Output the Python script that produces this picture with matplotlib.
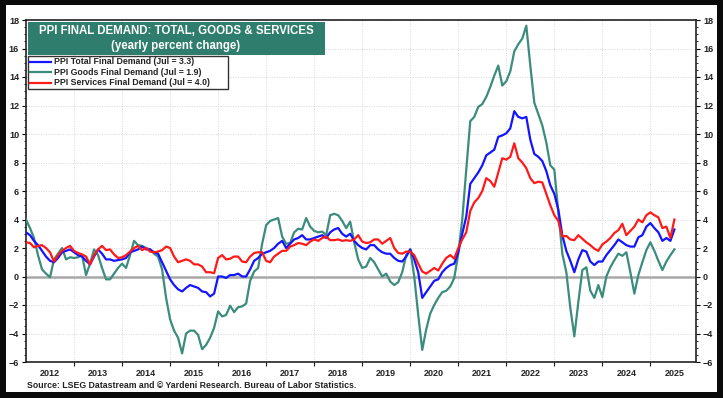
import numpy as np
import pandas as pd
import matplotlib
matplotlib.use('Agg')
import matplotlib.pyplot as plt
from matplotlib.patches import Rectangle
from matplotlib.lines import Line2D

plt.rcParams['font.family'] = ['Liberation Sans', 'DejaVu Sans']

# Monthly, Jan 2012 .. Jul 2025 (yearly percent change)
months = pd.date_range('2012-01-01', '2025-07-01', freq='MS')

ppi_total = [
    3.1, 2.9, 2.5, 2.2, 1.8, 1.4, 1.1, 1.0, 1.3, 1.7, 1.8, 1.9,       # 2012
    1.7, 1.5, 1.4, 1.1, 0.85, 1.4, 1.9, 1.6, 1.2, 1.2, 1.1, 1.15,     # 2013
    1.2, 1.3, 1.7, 1.8, 1.9, 2.1, 1.9, 1.9, 1.7, 1.6, 1.0, 0.4,       # 2014
    -0.2, -0.6, -0.9, -1.05, -0.8, -0.6, -0.7, -0.8, -1.05, -1.1, -1.4, -1.2,  # 2015
    0.0, 0.0, -0.1, 0.1, 0.1, 0.2, 0.0, 0.0, 0.5, 1.1, 1.3, 1.6,     # 2016
    1.7, 1.8, 2.0, 2.3, 2.5, 2.0, 2.3, 2.6, 2.7, 2.9, 2.6, 2.6,       # 2017
    2.7, 2.8, 2.9, 2.7, 3.1, 3.3, 3.4, 3.0, 2.8, 3.0, 2.5, 2.2,       # 2018
    2.0, 1.9, 2.2, 2.2, 1.9, 1.7, 1.6, 1.6, 1.3, 1.1, 1.05, 1.4,      # 2019
    1.9, 1.2, 0.3, -1.5, -1.1, -0.7, -0.3, -0.2, 0.3, 0.6, 0.8, 0.9,  # 2020
    1.7, 3.0, 4.2, 6.5, 6.9, 7.3, 7.8, 8.5, 8.7, 8.9, 9.8, 9.9,       # 2021
    10.05, 10.4, 11.6, 11.2, 11.1, 11.2, 9.6, 8.6, 8.4, 8.1, 7.4, 6.4,  # 2022
    5.8, 4.7, 2.9, 1.8, 1.1, 0.3, 1.2, 1.85, 1.75, 1.05, 0.8, 1.05,   # 2023
    1.05, 1.5, 1.85, 2.2, 2.6, 2.4, 2.2, 2.1, 2.1, 2.75, 2.9, 3.5,    # 2024
    3.75, 3.4, 3.1, 2.5, 2.7, 2.5, 3.3,                               # 2025
]

ppi_goods = [
    4.0, 3.4, 2.7, 1.5, 0.5, 0.2, -0.05, 1.2, 1.6, 2.0, 1.2, 1.35,
    1.3, 1.35, 1.5, 0.1, 0.9, 1.9, 1.5, 0.6, -0.2, -0.2, 0.2, 0.6,
    0.9, 0.6, 1.5, 2.5, 2.2, 2.15, 2.0, 1.9, 1.6, 1.4, 0.5, -1.5,
    -3.0, -3.8, -4.3, -5.4, -4.0, -3.8, -3.8, -4.1, -5.1, -4.8, -4.3, -3.6,
    -2.45, -2.8, -2.7, -2.05, -2.5, -2.15, -2.1, -1.9, -0.3, 0.35, 0.6, 2.3,
    3.6, 3.9, 4.0, 4.1, 2.8, 2.3, 2.35, 3.1, 3.35, 3.3, 4.1, 3.5,
    3.2, 3.1, 3.15, 2.9, 4.3, 4.4, 4.3, 3.9, 3.4, 3.85, 2.4, 1.2,
    0.6, 0.7, 1.3, 1.0, 0.5, 0.0, 0.2, -0.35, -0.6, -0.4, 0.3, 1.5,
    1.9, 0.0, -2.7, -5.15, -3.7, -2.6, -2.0, -1.5, -1.1, -1.0, -0.7, -0.1,
    1.6, 4.0, 7.5, 10.9, 11.2, 11.9, 12.1, 12.6, 13.3, 14.1, 14.8, 13.4,
    13.7, 14.4, 15.8, 16.3, 16.7, 17.6, 14.8, 12.2, 11.4, 10.6, 9.4, 7.8,
    7.5, 4.5, 1.6, 0.3, -2.2, -4.2, -1.8, 0.45, 0.65, -1.0, -1.5, -0.6,
    -1.45, 0.0, 0.65, 1.15, 1.6, 1.45, 1.7, 0.3, -1.2, 0.1, 1.0, 1.85,
    2.4, 1.8, 1.1, 0.45, 1.05, 1.5, 1.9,
]

ppi_services = [
    2.4, 2.35, 2.05, 2.15, 2.2, 2.0, 1.7, 1.05, 1.5, 1.8, 2.0, 2.15,
    1.8, 1.65, 1.55, 1.4, 0.85, 1.5, 1.9, 2.15, 1.85, 1.9, 1.55, 1.3,
    1.35, 1.5, 1.75, 2.0, 2.15, 1.85, 2.0, 1.75, 1.7, 1.75, 1.85, 2.1,
    2.0, 1.4, 1.0, 1.1, 1.2, 1.1, 0.85, 0.85, 0.7, 0.3, 0.3, 0.23,
    1.3, 1.5, 1.2, 1.25, 1.4, 1.4, 1.05, 1.0, 1.4, 1.65, 1.7, 1.7,
    1.1, 1.0, 1.4, 1.6, 1.8, 1.8, 2.1, 2.2, 2.35, 2.3, 2.2, 2.45,
    2.6, 2.5, 2.7, 2.8, 2.55, 2.55, 2.6, 2.5, 2.55, 2.5, 2.6, 2.9,
    2.45, 2.35, 2.4, 2.6, 2.6, 2.3, 2.5, 2.7, 2.0, 1.65, 1.6, 1.75,
    1.75, 1.5, 0.9, 0.35, 0.2, 0.4, 0.6, 0.42, 0.9, 1.3, 1.5, 1.25,
    2.0, 2.6, 3.1, 4.6, 5.2, 5.5, 6.0, 6.9, 6.7, 6.3, 7.3, 8.3,
    8.2, 8.4, 9.35, 8.3, 8.0, 7.6, 6.9, 6.55, 6.65, 6.6, 5.8, 5.0,
    4.3, 3.9, 2.8, 2.85, 2.6, 2.55, 2.9, 2.65, 2.4, 2.2, 1.95, 1.8,
    2.25, 2.45, 2.7, 3.05, 3.25, 3.7, 2.9, 3.2, 3.5, 4.0, 3.8, 4.3,
    4.5, 4.3, 4.15, 3.4, 3.5, 2.7, 4.0,
]

years = list(range(2012, 2026))
y_ticks = list(range(-6, 19, 2))

series_labels = ['PPI Total Final Demand (Jul = 3.3)',
                 'PPI Goods Final Demand (Jul = 1.9)',
                 'PPI Services Final Demand (Jul = 4.0)']
series_colors = ['#1414ff', '#3b8c7c', '#ff1a1a']

t = months.year + (months.month - 1) / 12.0

W, H = 723, 398
fig = plt.figure(figsize=(W / 100, H / 100), dpi=100, facecolor='#0a0a0a')

def fx(px):
    return px / W

def fy(py):
    return 1 - py / H

# white card inside the dark frame
fig.patches.append(Rectangle((fx(6), fy(392)), fx(717) - fx(6), fy(5) - fy(392),
                             transform=fig.transFigure, facecolor='white', edgecolor='none', zorder=-10))

ax = fig.add_axes([fx(26), fy(362), fx(696) - fx(26), fy(20) - fy(362)])
ax.set_zorder(1)
ax.set_facecolor('white')

ax.plot(t, ppi_goods, color=series_colors[1], lw=1.6, zorder=3)
ax.plot(t, ppi_total, color=series_colors[0], lw=1.6, zorder=4)
ax.plot(t, ppi_services, color=series_colors[2], lw=1.6, zorder=5)

ax.axhline(0, color='#a8a8a8', lw=1.8, zorder=2)

ax.set_xlim(2012, 2025.95)
ax.set_ylim(-6, 18)

# year boundaries as gridlines, labels at mid-year
ax.set_xticks(years[1:])
ax.set_xticklabels([])
ax.set_xticks([y + 0.5 for y in years], minor=True)
ax.set_xticklabels([str(y) for y in years], minor=True)
ax.tick_params(axis='x', which='major', length=3, width=0.8, direction='out', colors='#222222')
ax.tick_params(axis='x', which='minor', length=0, pad=5, labelsize=6.5, labelcolor='#222222')
for lbl in ax.get_xticklabels(minor=True):
    lbl.set_fontweight('bold')

ax.set_yticks(y_ticks)
ax.set_yticks(np.arange(-6, 18.01, 0.5), minor=True)
ax.tick_params(axis='y', which='major', length=3, width=0.8, labelsize=6.5, labelcolor='#222222',
               left=True, right=True, labelleft=True, labelright=True, pad=2)
ax.tick_params(axis='y', which='minor', length=1.5, width=0.6, left=True, right=True)
for lbl in ax.get_yticklabels():
    lbl.set_fontweight('bold')

ax.grid(True, which='major', axis='both', color='#d8d8d8', ls=(0, (1, 1.5)), lw=0.7, zorder=1)
for s in ax.spines.values():
    s.set_color('#222222')
    s.set_linewidth(1.2)

# title box
fig.patches.append(Rectangle((fx(28), fy(55)), fx(325) - fx(28), fy(22) - fy(55),
                             transform=fig.transFigure, facecolor='#2e7d6d', edgecolor='none', zorder=6))
fig.text(fx(176), fy(31), 'PPI FINAL DEMAND: TOTAL, GOODS & SERVICES', color='white',
         fontsize=8.3, fontweight='bold', ha='center', va='center', zorder=7)
fig.text(fx(176), fy(46), '(yearly percent change)', color='white',
         fontsize=8.3, fontweight='bold', ha='center', va='center', zorder=7)

# legend box
fig.patches.append(Rectangle((fx(28), fy(89)), fx(228) - fx(28), fy(56) - fy(89),
                             transform=fig.transFigure, facecolor='white', edgecolor='#333333',
                             lw=1.0, zorder=6))
for i, (lab, col) in enumerate(zip(series_labels, series_colors)):
    yy = fy(62 + i * 10.3)
    fig.lines.append(Line2D([fx(30), fx(51)], [yy, yy], transform=fig.transFigure,
                            color=col, lw=1.6, zorder=7))
    fig.text(fx(54), yy, lab, fontsize=6.3, fontweight='bold', color='#222222',
             ha='left', va='center', zorder=7)

fig.text(fx(27), fy(385), 'Source: LSEG Datastream and \u00a9 Yardeni Research. Bureau of Labor Statistics.',
         fontsize=6.3, fontweight='bold', color='#222222', ha='left', va='center')

fig.savefig('out.png', dpi=100, facecolor=fig.get_facecolor())
